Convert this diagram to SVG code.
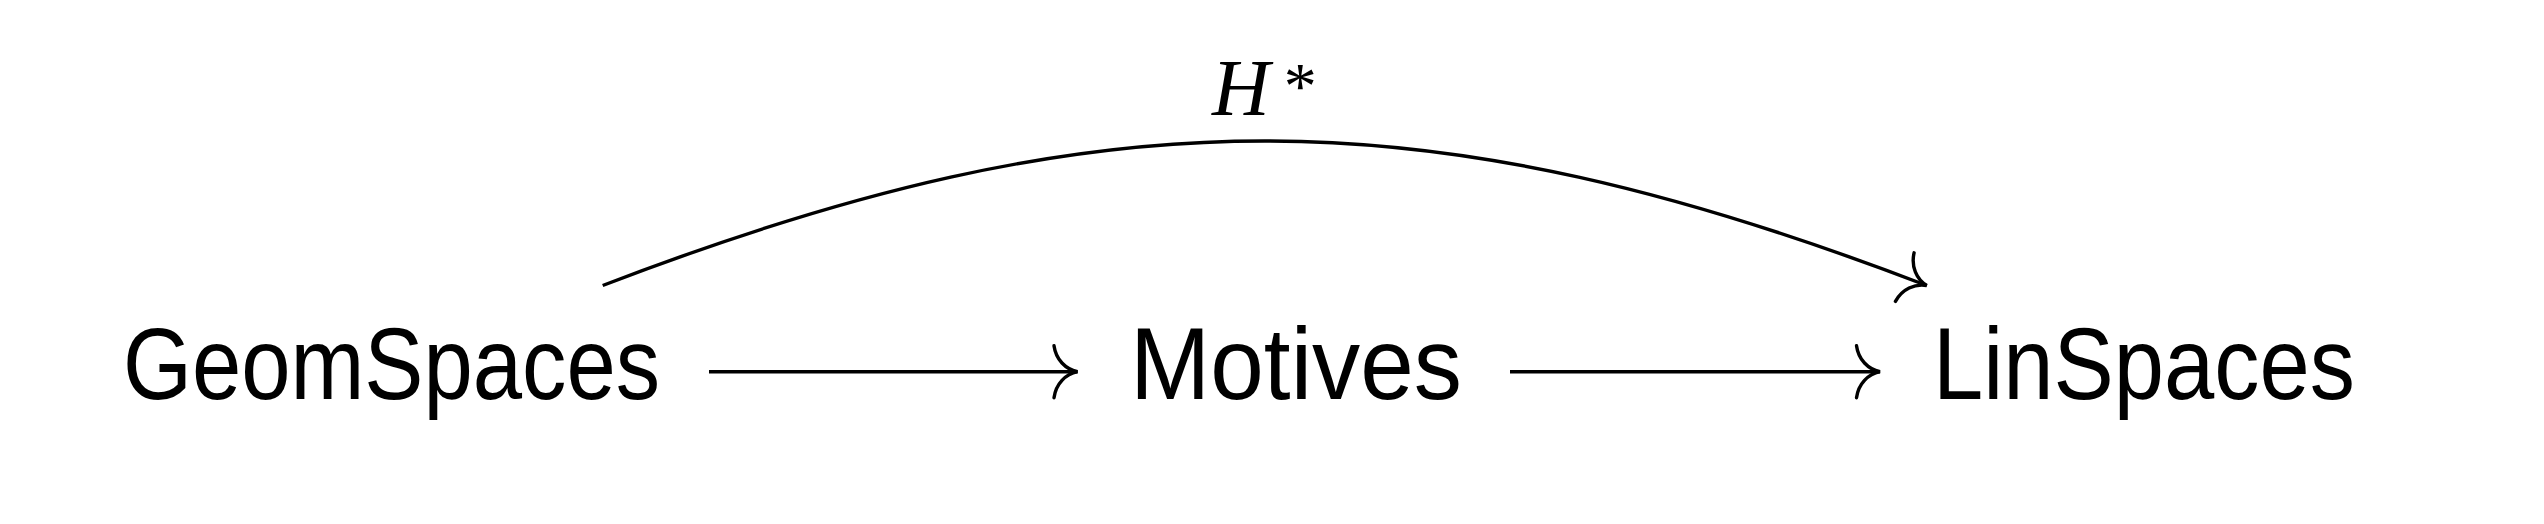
<svg xmlns="http://www.w3.org/2000/svg" width="2544" height="524" viewBox="0 0 2544 524">
  <style>
    .node { font-family: "Liberation Sans", Arial, sans-serif; font-size: 102px; fill: #000; }
    .lbl { font-family: "Liberation Serif", "Times New Roman", serif; fill: #000; }
    .edge { fill: none; stroke: #000; stroke-width: 3.4; }
  </style>
  <defs>
    <marker id="to" markerUnits="userSpaceOnUse" orient="auto" refX="0" refY="0" markerWidth="60" markerHeight="60" overflow="visible">
      <path d="M -23.5,-26 C -21.5,-12 -12,-2.5 0,0 C -12,2.5 -21.5,12 -23.5,26" fill="none" stroke="#000" stroke-width="3.4" stroke-linecap="round"/>
    </marker>
  </defs>
  <rect width="2544" height="524" fill="#fff"/>
  <g id="GeomSpaces">
    <text class="node" x="123" y="399" textLength="537" lengthAdjust="spacingAndGlyphs">GeomSpaces</text>
  </g>
  <g id="Motives">
    <text class="node" x="1130" y="399" textLength="332" lengthAdjust="spacingAndGlyphs">Motives</text>
  </g>
  <g id="LinSpaces">
    <text class="node" x="1933" y="399" textLength="422" lengthAdjust="spacingAndGlyphs">LinSpaces</text>
  </g>
  <g id="connectors">
    <path class="edge" d="M 709 371.7 L 1077.5 371.7" marker-end="url(#to)"/>
    <path class="edge" d="M 1510 371.7 L 1880 371.7" marker-end="url(#to)"/>
    <path class="edge" d="M 602.7 285.5 C 1104.7 92.8 1424.7 92.8 1926.7 285.5" marker-end="url(#to)"/>
    <text class="lbl" x="1212" y="115" font-size="80" font-style="italic">H<tspan font-style="normal" font-size="66" dx="14" dy="-7">*</tspan></text>
  </g>
</svg>
